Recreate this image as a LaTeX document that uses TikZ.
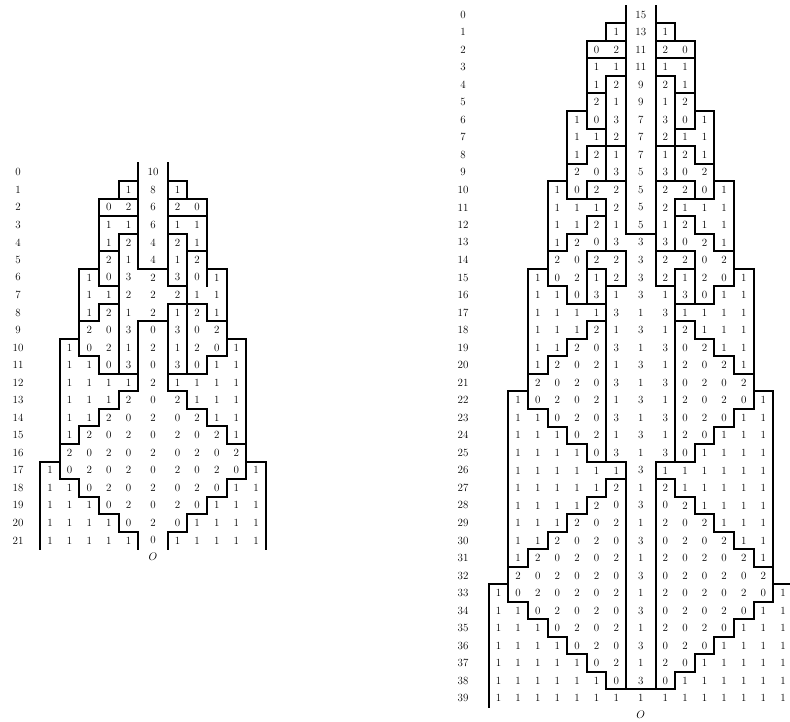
\documentclass[tikz,border=0pt]{standalone}
\usepackage{fontspec}
\tikzset{
  thk/.style={line width=2pt, line cap=rect},
  num/.style={font=\fontsize{11}{12}\selectfont\addfontfeature{LetterSpace=30}, inner sep=0pt},
}
\newcommand\vseg[3]{\draw[thk] (#1,#2) -- (#1,#3+1);}
\newcommand\hseg[3]{\draw[thk] (#2,#1) -- (#3,#1);}
\newcommand\vmir[3]{\draw[thk] (#1,#2) -- (#1,#3+1) (-#1,#2) -- (-#1,#3+1);}
\newcommand\hmir[3]{\draw[thk] (#2,#1) -- (#3,#1) (-#2,#1) -- (-#3,#1);}
\newcommand\cellrows[2]{%
  \foreach \r/\s/\vals in {#2} {
    \foreach \v [count=\k from 0] in \vals {
      \pgfmathtruncatemacro\c{\s+\k}
      \pgfmathsetmacro\xx{\c+0.25*sign(\c)}
      \node[num] (#1\r c\c) at (\xx,\r+0.5) {\v};
    }
  }}
\begin{document}
\begin{tikzpicture}[x=1pt,y=1pt]
\fill[white] (0,0) rectangle (790,-722);
\useasboundingbox (0,0) rectangle (790,-722);
% ---------------- left diagram ----------------
\begin{scope}[shift={(153,-163.5)},x=19.62pt,y=-17.53pt]
\cellrows{L}{0/0/{10}, 1/-1/{1,8,1}, 2/-2/{0,2,6,2,0}, 3/-2/{1,1,6,1,1},
 4/-2/{1,2,4,2,1}, 5/-2/{2,1,4,1,2}, 6/-3/{1,0,3,2,3,0,1}, 7/-3/{1,1,2,2,2,1,1},
 8/-3/{1,2,1,2,1,2,1}, 9/-3/{2,0,3,0,3,0,2}, 10/-4/{1,0,2,1,2,1,2,0,1},
 11/-4/{1,1,0,3,0,3,0,1,1}, 12/-4/{1,1,1,1,2,1,1,1,1}, 13/-4/{1,1,1,2,0,2,1,1,1},
 14/-4/{1,1,2,0,2,0,2,1,1}, 15/-4/{1,2,0,2,0,2,0,2,1}, 16/-4/{2,0,2,0,2,0,2,0,2},
 17/-5/{1,0,2,0,2,0,2,0,2,0,1}, 18/-5/{1,1,0,2,0,2,0,2,0,1,1},
 19/-5/{1,1,1,0,2,0,2,0,1,1,1}, 20/-5/{1,1,1,1,0,2,0,1,1,1,1},
 21/-5/{1,1,1,1,1,0,1,1,1,1,1}}
\foreach \r in {0,...,21} \node[num] (Llab\r) at (-6.88,\r+0.5) {\r};
\node[font=\fontsize{11}{12}\selectfont] (LO) at (0,22.45) {$O$};
% symmetric lines
\hmir{1}{0.75}{1.75} \vmir{1.75}{1}{1}
\hmir{2}{0.75}{2.75} \vmir{2.75}{2}{6} \hmir{3}{0.75}{2.75}
\hmir{4}{0.75}{1.75} \vmir{1.75}{4}{11} \hmir{5}{1.75}{2.75}
\hmir{6}{2.75}{3.75} \vmir{3.75}{6}{10}
\hmir{8}{1.75}{2.75} \vmir{2.75}{8}{8} \hmir{9}{2.75}{3.75}
\hmir{10}{3.75}{4.75} \vmir{4.75}{10}{17}
\hmir{11}{2.75}{3.75} \vmir{2.75}{11}{11} \hmir{12}{0.75}{2.75}
\hmir{13}{0.75}{1.75} \vmir{1.75}{13}{13} \hmir{14}{1.75}{2.75} \vmir{2.75}{14}{14}
\hmir{15}{2.75}{3.75} \vmir{3.75}{15}{15} \hmir{16}{3.75}{4.75}
\hmir{17}{4.75}{5.75} \vmir{5.75}{17}{21}
\hmir{18}{3.75}{4.75} \vmir{3.75}{18}{18} \hmir{19}{2.75}{3.75} \vmir{2.75}{19}{19}
\hmir{20}{1.75}{2.75} \vmir{1.75}{20}{20} \hmir{21}{0.75}{1.75} \vmir{0.75}{21}{21}
% asymmetric lines
\vseg{-0.75}{0}{5} \vseg{-0.75}{9}{12} \hseg{7}{-2.75}{-1.75}
\vseg{0.75}{0}{6} \vseg{0.75}{8}{12} \hseg{7}{0.75}{1.75} \hseg{8}{0.75}{1.75}
\hseg{6}{-0.75}{0.75} \hseg{9}{-0.75}{0.75}
\end{scope}
% ---------------- right diagram ----------------
\begin{scope}[shift={(640.8,-5.8)},x=19.62pt,y=-17.53pt]
\cellrows{R}{0/0/{15}, 1/-1/{1,13,1}, 2/-2/{0,2,11,2,0}, 3/-2/{1,1,11,1,1},
 4/-2/{1,2,9,2,1}, 5/-2/{2,1,9,1,2}, 6/-3/{1,0,3,7,3,0,1}, 7/-3/{1,1,2,7,2,1,1},
 8/-3/{1,2,1,7,1,2,1}, 9/-3/{2,0,3,5,3,0,2}, 10/-4/{1,0,2,2,5,2,2,0,1},
 11/-4/{1,1,1,2,5,2,1,1,1}, 12/-4/{1,1,2,1,5,1,2,1,1}, 13/-4/{1,2,0,3,3,3,0,2,1},
 14/-4/{2,0,2,2,3,2,2,0,2}, 15/-5/{1,0,2,1,2,3,2,1,2,0,1},
 16/-5/{1,1,0,3,1,3,1,3,0,1,1}, 17/-5/{1,1,1,1,3,1,3,1,1,1,1},
 18/-5/{1,1,1,2,1,3,1,2,1,1,1}, 19/-5/{1,1,2,0,3,1,3,0,2,1,1},
 20/-5/{1,2,0,2,1,3,1,2,0,2,1}, 21/-5/{2,0,2,0,3,1,3,0,2,0,2},
 22/-6/{1,0,2,0,2,1,3,1,2,0,2,0,1}, 23/-6/{1,1,0,2,0,3,1,3,0,2,0,1,1},
 24/-6/{1,1,1,0,2,1,3,1,2,0,1,1,1}, 25/-6/{1,1,1,1,0,3,1,3,0,1,1,1,1},
 26/-6/{1,1,1,1,1,1,3,1,1,1,1,1,1}, 27/-6/{1,1,1,1,1,2,1,2,1,1,1,1,1},
 28/-6/{1,1,1,1,2,0,3,0,2,1,1,1,1}, 29/-6/{1,1,1,2,0,2,1,2,0,2,1,1,1},
 30/-6/{1,1,2,0,2,0,3,0,2,0,2,1,1}, 31/-6/{1,2,0,2,0,2,1,2,0,2,0,2,1},
 32/-6/{2,0,2,0,2,0,3,0,2,0,2,0,2}, 33/-7/{1,0,2,0,2,0,2,1,2,0,2,0,2,0,1},
 34/-7/{1,1,0,2,0,2,0,3,0,2,0,2,0,1,1}, 35/-7/{1,1,1,0,2,0,2,1,2,0,2,0,1,1,1},
 36/-7/{1,1,1,1,0,2,0,3,0,2,0,1,1,1,1}, 37/-7/{1,1,1,1,1,0,2,1,2,0,1,1,1,1,1},
 38/-7/{1,1,1,1,1,1,0,3,0,1,1,1,1,1,1}, 39/-7/{1,1,1,1,1,1,1,1,1,1,1,1,1,1,1}}
\foreach \r in {0,...,39} \node[num] (Rlab\r) at (-9.06,\r+0.5) {\r};
\node[font=\fontsize{11}{12}\selectfont] (RO) at (0,40.45) {$O$};
% lines
\vmir{0.75}{0}{12} \vseg{0.75}{13}{13} \hseg{13}{-0.75}{0.75}
\hmir{1}{0.75}{1.75} \vmir{1.75}{1}{1}
\hmir{2}{0.75}{2.75} \vmir{2.75}{2}{6} \hmir{3}{0.75}{2.75}
\hmir{4}{0.75}{1.75} \vmir{1.75}{4}{9} \hmir{5}{1.75}{2.75} \hmir{7}{1.75}{2.75}
\hmir{6}{2.75}{3.75} \vmir{3.75}{6}{10}
\hmir{8}{0.75}{2.75} \vmir{2.75}{8}{8} \hmir{9}{2.75}{3.75}
\hmir{10}{3.75}{4.75} \vmir{4.75}{10}{15}
\hmir{10}{0.75}{2.75} \vmir{2.75}{10}{10} \hmir{11}{1.75}{3.75} \vmir{1.75}{11}{13}
\hmir{12}{1.75}{2.75} \vmir{2.75}{12}{12} \hmir{13}{2.75}{3.75} \vmir{3.75}{13}{13}
\hmir{14}{3.75}{4.75}
\hmir{14}{0.75}{2.75} \vmir{2.75}{14}{16} \vmir{0.75}{14}{15} \hmir{15}{1.75}{2.75}
\vmir{1.75}{15}{25} \hmir{16}{0.75}{1.75}
\hmir{15}{4.75}{5.75} \vmir{5.75}{15}{22}
\hmir{16}{3.75}{4.75} \vmir{3.75}{16}{16} \hmir{17}{1.75}{3.75}
\hmir{18}{1.75}{2.75} \vmir{2.75}{18}{18} \hmir{19}{2.75}{3.75} \vmir{3.75}{19}{19}
\hmir{20}{3.75}{4.75} \vmir{4.75}{20}{20} \hmir{21}{4.75}{5.75}
\hmir{22}{5.75}{6.75} \vmir{6.75}{22}{33}
\hmir{23}{4.75}{5.75} \vmir{4.75}{23}{23} \hmir{24}{3.75}{4.75} \vmir{3.75}{24}{24}
\hmir{25}{2.75}{3.75} \vmir{2.75}{25}{25} \hmir{26}{0.75}{2.75}
\vmir{0.75}{26}{38}
\hmir{27}{0.75}{1.75} \vmir{1.75}{27}{27} \hmir{28}{1.75}{2.75} \vmir{2.75}{28}{28}
\hmir{29}{2.75}{3.75} \vmir{3.75}{29}{29} \hmir{30}{3.75}{4.75} \vmir{4.75}{30}{30}
\hmir{31}{4.75}{5.75} \vmir{5.75}{31}{31} \hmir{32}{5.75}{6.75}
\hmir{33}{6.75}{7.75} \vmir{7.75}{33}{39}
\hmir{34}{5.75}{6.75} \vmir{5.75}{34}{34} \hmir{35}{4.75}{5.75} \vmir{4.75}{35}{35}
\hmir{36}{3.75}{4.75} \vmir{3.75}{36}{36} \hmir{37}{2.75}{3.75} \vmir{2.75}{37}{37}
\hmir{38}{1.75}{2.75} \vmir{1.75}{38}{38} \hseg{39}{-1.75}{1.75}
\end{scope}
\end{tikzpicture}
\end{document}
